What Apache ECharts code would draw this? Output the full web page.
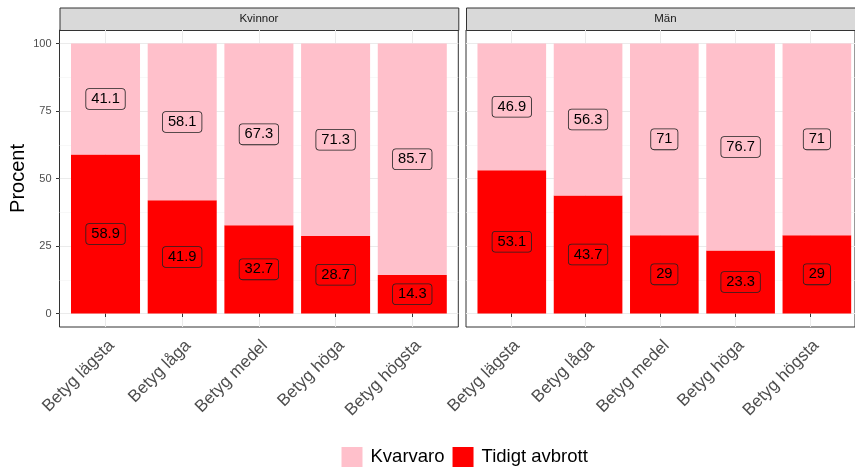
<!DOCTYPE html>
<html>
<head>
<meta charset="utf-8">
<script src="https://cdn.jsdelivr.net/npm/echarts@6/dist/echarts.min.js"></script>
<style>
html,body{margin:0;padding:0;background:#fff;}
#chart{width:855px;height:468px;}
</style>
</head>
<body>
<div id="chart"></div>
<script>
const categories = ['Betyg lägsta', 'Betyg låga', 'Betyg medel', 'Betyg höga', 'Betyg högsta'];
const panels = ['Kvinnor', 'Män'];
const kvinnorTidigt = [58.9, 41.9, 32.7, 28.7, 14.3];
const kvinnorKvarvaro = [41.1, 58.1, 67.3, 71.3, 85.7];
const manTidigt = [53.1, 43.7, 29, 23.3, 29];
const manKvarvaro = [46.9, 56.3, 71, 76.7, 71];
const yTicks = [0, 25, 50, 75, 100];
const yMinor = [12.5, 37.5, 62.5, 87.5];
const xPositions = [1, 2, 3, 4, 5];

const FONT = '"Liberation Sans", Arial, sans-serif';
const PINK = '#FFC0CB', RED = '#FF0000';
const panelLeft = [59.5, 466];
const panelTop = 30, panelW = 398.8, panelH = 297;
const unit = panelW / 5.2;

const chart = echarts.init(document.getElementById('chart'), null, {renderer: 'canvas'});

// outer grids (panel frame, gridlines, axes) 0,1 ; inner grids (bars) 2,3
const grids = [];
panelLeft.forEach(l => grids.push({
  left: l, top: panelTop, width: panelW, height: panelH,
  show: true, borderColor: '#333333', borderWidth: 1, backgroundColor: 'transparent', containLabel: false
}));
panelLeft.forEach(l => grids.push({
  left: l + 0.1 * unit, top: panelTop, width: 5 * unit, height: panelH, show: false, containLabel: false
}));

const xAxes = [];
panelLeft.forEach((l, i) => xAxes.push({
  type: 'value', gridIndex: i, min: 0.4, max: 5.6,
  axisLine: {show: false},
  axisTick: {show: true, customValues: xPositions, length: 3.5, lineStyle: {color: '#333333', width: 1}},
  axisLabel: {
    customValues: xPositions, rotate: 45, align: 'right', verticalAlign: 'top', margin: 10,
    fontSize: 17, color: '#4D4D4D', fontFamily: FONT,
    formatter: v => categories[Math.round(v) - 1]
  },
  splitLine: {show: true, lineStyle: {color: '#EBEBEB', width: 1}}
}));
panelLeft.forEach((l, i) => xAxes.push({
  type: 'category', gridIndex: i + 2, data: categories, show: false, boundaryGap: true
}));

const yAxes = [];
panelLeft.forEach((l, i) => {
  yAxes.push({
    type: 'value', gridIndex: i, min: -5, max: 105, position: 'left',
    axisLine: {show: false},
    axisTick: {show: i === 0, customValues: yTicks, length: 3.5, lineStyle: {color: '#333333', width: 1}},
    axisLabel: {show: i === 0, customValues: yTicks, fontSize: 11, color: '#4D4D4D', fontFamily: FONT, margin: 8},
    splitLine: {show: true, lineStyle: {color: '#EBEBEB', width: 1}},
    name: i === 0 ? 'Procent' : '', nameLocation: 'middle', nameGap: 31, nameRotate: 90,
    nameTextStyle: {fontSize: 20, color: '#000000', fontFamily: FONT}
  });
});
panelLeft.forEach((l, i) => {
  yAxes.push({
    type: 'value', gridIndex: i, min: -5, max: 105, position: 'right',
    axisLine: {show: false},
    axisTick: {show: false, customValues: yMinor},
    axisLabel: {show: false, customValues: yMinor},
    splitLine: {show: true, lineStyle: {color: '#F3F3F3', width: 0.6}}
  });
});
panelLeft.forEach((l, i) => {
  yAxes.push({type: 'value', gridIndex: i + 2, min: -5, max: 105, show: false});
});

function labelStyle(bg) {
  return {
    show: true, position: 'inside', color: '#000000', fontSize: 14.7, fontFamily: FONT,
    backgroundColor: bg, borderColor: '#222222', borderWidth: 0.8, borderRadius: 3,
    padding: [3, 5, 2, 5]
  };
}

function makeSeries(name, vals, gi, stack, color) {
  return {
    type: 'bar', name: name, xAxisIndex: gi + 2, yAxisIndex: gi + 4, stack: stack,
    barCategoryGap: '10%', itemStyle: {color: color},
    data: vals,
    label: labelStyle(color),
    emphasis: {disabled: true}
  };
}

const series = [
  makeSeries('Tidigt avbrott', kvinnorTidigt, 0, 'k', RED),
  makeSeries('Kvarvaro', kvinnorKvarvaro, 0, 'k', PINK),
  makeSeries('Tidigt avbrott', manTidigt, 1, 'm', RED),
  makeSeries('Kvarvaro', manKvarvaro, 1, 'm', PINK)
];

const graphics = [];
panelLeft.forEach((l, i) => {
  graphics.push({
    type: 'rect', left: l, top: 7.5, silent: true,
    shape: {width: panelW, height: 22.5},
    style: {fill: '#D9D9D9', stroke: '#333333', lineWidth: 1}
  });
  graphics.push({
    type: 'text', x: l + panelW / 2, y: 7.5 + 11.25, silent: true,
    style: {text: panels[i], fill: '#1A1A1A', fontSize: 11.5, fontFamily: FONT, align: 'center', verticalAlign: 'middle'}
  });
});

chart.setOption({
  animation: false,
  textStyle: {fontFamily: FONT},
  grid: grids,
  xAxis: xAxes,
  yAxis: yAxes,
  legend: {
    data: ['Kvarvaro', 'Tidigt avbrott'], left: 341.5, top: 447, padding: 0,
    icon: 'rect', itemWidth: 21, itemHeight: 20, itemGap: 8,
    textStyle: {fontSize: 18.5, color: '#000000', fontFamily: FONT, padding: [0, 0, 0, 3]}
  },
  graphic: graphics,
  series: series
});
</script>
</body>
</html>
